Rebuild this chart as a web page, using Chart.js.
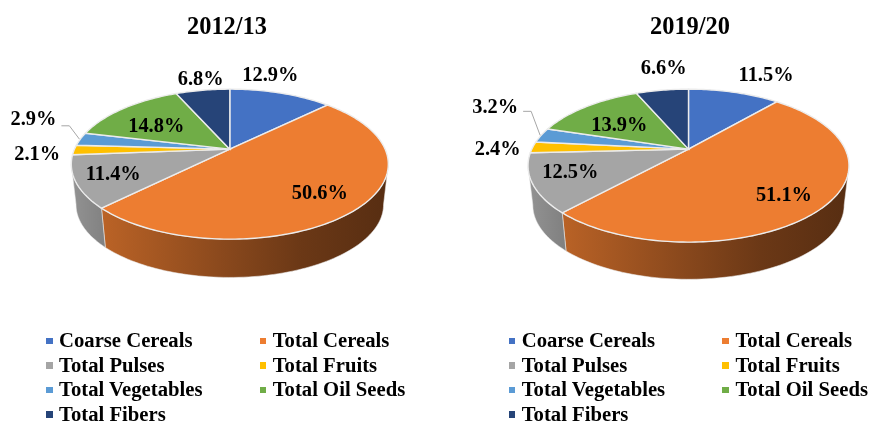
<!DOCTYPE html>
<html>
<head>
<meta charset="utf-8">
<title>Crop area share 2012/13 and 2019/20</title>
<script src="https://cdn.jsdelivr.net/npm/chart.js@4"></script>
<style>
  html, body { margin: 0; padding: 0; background: #fff; }
  body { position: relative; width: 871px; height: 421px; overflow: hidden; font-family: "Liberation Serif", serif; }
  canvas { position: absolute; top: 0; }
  .legend { position: absolute; top: 328px; display: grid; grid-template-columns: 213.7px 150px; grid-auto-rows: 24.6px; }
  .legend div { font-weight: bold; font-size: 20.7px; line-height: 24.6px; color: #000; white-space: nowrap; }
  .legend i { display: inline-block; width: 6.5px; height: 6.5px; margin-right: 6.5px; vertical-align: 3px; }
</style>
</head>
<body>
<canvas id="pie1" width="460" height="421" style="left:-3.3px"></canvas>
<canvas id="pie2" width="460" height="421" style="left:460px"></canvas>
<div class="legend" id="legend1" style="left:46px"></div>
<div class="legend" id="legend2" style="left:508.7px"></div>

<script>
const crops = ["Coarse Cereals", "Total Cereals", "Total Pulses", "Total Fruits", "Total Vegetables", "Total Oil Seeds", "Total Fibers"];
const share2012 = [12.9, 50.6, 11.4, 2.1, 2.9, 14.8, 6.8];
const share2019 = [11.5, 51.1, 12.5, 2.4, 3.2, 13.9, 6.6];
const colors = ["#4472C4", "#ED7D31", "#A5A5A5", "#FFC000", "#5B9BD5", "#70AD47", "#264478"];

// label offset from the middle of each slice's rim
const labelShift2012 = [[-10.5, -17.7], [-37, -15], [37.5, -7], [-37, 4.5], [-47, -19], [32.5, 18], [-2, -11]];
const labelShift2019 = [[32, -17], [-41, -10.5], [38, -10], [-35, 2], [-46, -28], [33, 19], [1.5, -21]];

Chart.defaults.font.family = '"Liberation Serif", serif';

// The rim of a tilted disc seen in perspective: the apex sits above the ellipse centre
function project(el, shape, angle) {
  const u = Math.cos(angle);
  const v = Math.sin(angle);
  const d = 1 + shape.k * v;
  return { x: el.x + shape.dx + el.outerRadius * u / d, y: el.y + shape.b * v / d };
}

function shade(hex, f) {
  const n = parseInt(hex.slice(1), 16);
  const r = Math.round((n >> 16) * f);
  const g = Math.round(((n >> 8) & 255) * f);
  const b = Math.round((n & 255) * f);
  return `rgb(${r},${g},${b})`;
}

function drawWall(ctx, el, color, shape) {
  const cx = el.x + shape.dx;
  const visible = Math.asin(-shape.k);
  const from = Math.max(el.startAngle, visible);
  const to = Math.min(el.endAngle, Math.PI - visible);
  if (to <= from) return;

  const steps = 80;
  ctx.beginPath();
  for (let i = 0; i <= steps; i++) {
    const p = project(el, shape, from + (to - from) * i / steps);
    if (i === 0) ctx.moveTo(p.x, p.y);
    else ctx.lineTo(p.x, p.y);
  }
  for (let i = steps; i >= 0; i--) {
    const p = project(el, shape, from + (to - from) * i / steps);
    ctx.lineTo(cx + (p.x - cx) * shape.wallScale, el.y + (p.y - el.y) * shape.wallScale + shape.wallDrop);
  }
  ctx.closePath();

  const grad = ctx.createLinearGradient(cx - el.outerRadius, 0, cx + el.outerRadius, 0);
  grad.addColorStop(0, shade(color, 0.88));
  grad.addColorStop(0.1, shade(color, 0.78));
  grad.addColorStop(0.5, shade(color, 0.57));
  grad.addColorStop(0.73, shade(color, 0.45));
  grad.addColorStop(1, shade(color, 0.37));
  ctx.fillStyle = grad;
  ctx.fill();
  ctx.strokeStyle = "rgba(235,235,235,0.55)";
  ctx.lineWidth = 1;
  ctx.stroke();
}

function drawSlice(ctx, el, color, shape) {
  const steps = Math.max(4, Math.ceil((el.endAngle - el.startAngle) * 50));
  ctx.beginPath();
  ctx.moveTo(el.x + shape.dx, el.y);
  for (let i = 0; i <= steps; i++) {
    const p = project(el, shape, el.startAngle + (el.endAngle - el.startAngle) * i / steps);
    ctx.lineTo(p.x, p.y);
  }
  ctx.closePath();
  ctx.fillStyle = color;
  ctx.fill();
  ctx.strokeStyle = "#ececec";
  ctx.lineWidth = 1.4;
  ctx.stroke();
}

const tiltedPie = {
  id: "tiltedPie",
  beforeDatasetDraw(chart) {
    const shape = chart.options.plugins.tiltedPie;
    const arcs = chart.getDatasetMeta(0).data;
    const ctx = chart.ctx;
    ctx.save();
    arcs.forEach((el, i) => drawWall(ctx, el, colors[i], shape));
    arcs.forEach((el, i) => drawSlice(ctx, el, colors[i], shape));
    ctx.restore();
    return false;
  },
  afterDatasetsDraw(chart) {
    const shape = chart.options.plugins.tiltedPie;
    const values = chart.data.datasets[0].data;
    const ctx = chart.ctx;
    ctx.save();
    ctx.font = 'bold 20.4px "Liberation Serif", serif';
    ctx.textAlign = "center";
    ctx.textBaseline = "middle";
    chart.getDatasetMeta(0).data.forEach((el, i) => {
      const rim = project(el, shape, (el.startAngle + el.endAngle) / 2);
      const x = rim.x + shape.labelShift[i][0];
      const y = rim.y + shape.labelShift[i][1];
      if (i === shape.leaderSlice) {
        ctx.beginPath();
        ctx.moveTo(x + 28, y + shape.leaderDrop);
        ctx.lineTo(x + 36, y + shape.leaderDrop);
        ctx.lineTo(rim.x - 1, rim.y);
        ctx.strokeStyle = "#a6a6a6";
        ctx.lineWidth = 1;
        ctx.stroke();
      }
      ctx.fillStyle = "#000";
      ctx.fillText(values[i].toFixed(1) + "%", x, y);
    });
    ctx.restore();
  },
};

function makePie(canvasId, title, values, radius, shape) {
  return new Chart(document.getElementById(canvasId), {
    type: "pie",
    data: {
      labels: crops,
      datasets: [{ data: values, backgroundColor: colors, borderWidth: 0, clip: false }],
    },
    options: {
      responsive: false,
      animation: false,
      events: [],
      radius: radius,
      layout: { padding: { bottom: 165 } },
      plugins: {
        legend: { display: false },
        tooltip: { enabled: false },
        title: {
          display: true,
          text: title,
          color: "#000",
          font: { size: 24.4, weight: "bold" },
          padding: { top: 13, bottom: 0 },
        },
        tiltedPie: shape,
      },
    },
    plugins: [tiltedPie],
  });
}

function makeLegend(id, chart) {
  const box = document.getElementById(id);
  chart.data.labels.forEach((name, i) => {
    const row = document.createElement("div");
    const mark = document.createElement("i");
    mark.style.background = chart.data.datasets[0].backgroundColor[i];
    row.appendChild(mark);
    row.appendChild(document.createTextNode(name));
    box.appendChild(row);
  });
}

const chart1 = makePie("pie1", "2012/13", share2012, 155.3, {
  dx: 2.8, k: -0.2, b: 72, wallScale: 0.97, wallDrop: 41,
  labelShift: labelShift2012, leaderSlice: 4, leaderDrop: 5.7,
});
const chart2 = makePie("pie2", "2019/20", share2019, 156.7, {
  dx: -1.5, k: -0.2157, b: 72.9, wallScale: 0.97, wallDrop: 40,
  labelShift: labelShift2019, leaderSlice: 4, leaderDrop: 4,
});
makeLegend("legend1", chart1);
makeLegend("legend2", chart2);
</script>
</body>
</html>
